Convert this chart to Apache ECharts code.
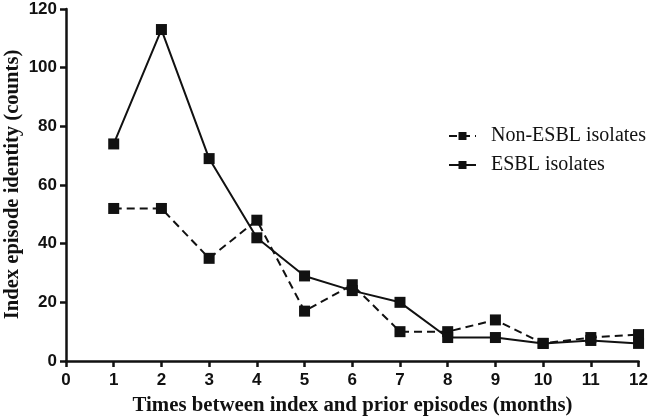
<!DOCTYPE html>
<html><head><meta charset="utf-8">
<script src="https://cdn.jsdelivr.net/npm/echarts@6/dist/echarts.min.js"></script>
<style>html,body{margin:0;padding:0;background:#fff}#c{width:651px;height:419px}</style>
</head><body><div id="c"></div>
<script>
const months = [1,2,3,4,5,6,7,8,9,10,11,12];
const nonEsbl = [52,52,35,48,17,26,10,10,14,6,8,9];
const esbl = [74,113,69,42,29,24,20,8,8,6,7,6];
const xTicks = [0,1,2,3,4,5,6,7,8,9,10,11,12];
const yTicks = [0,20,40,60,80,100,120];
const xTitle = 'Times between index and prior episodes (months)';
const yTitle = 'Index episode identity (counts)';

const chart = echarts.init(document.getElementById('c'), null, {renderer:'canvas'});
const labelStyle = {color:'#111',fontFamily:'Liberation Sans, Arial',fontWeight:'bold',fontSize:17};
const axisCommon = {
  axisLine:{show:true,lineStyle:{color:'#111',width:2.5}},
  axisTick:{show:true,length:6,lineStyle:{color:'#111',width:2.5}},
  splitLine:{show:false}
};
chart.setOption({
  animation:false,
  grid:{left:66,right:12,top:9,bottom:58},
  legend:{
    orient:'vertical', left:443, top:121, itemGap:9, itemWidth:27, itemHeight:10,
    textStyle:{color:'#111',fontFamily:'Liberation Serif, Times New Roman',fontSize:20,padding:[0,0,0,10]},
    data:['Non-ESBL isolates','ESBL isolates']
  },
  xAxis:Object.assign({}, axisCommon, {
    type:'value', min:0, max:12, interval:1,
    axisLabel:Object.assign({}, labelStyle, {margin:11, formatter:v=>xTicks.includes(v)?String(v):''})
  }),
  yAxis:Object.assign({}, axisCommon, {
    type:'value', min:0, max:120, interval:20,
    axisLabel:Object.assign({}, labelStyle, {margin:9, formatter:v=>yTicks.includes(v)?String(v):''})
  }),
  graphic:[
    {type:'text', x:352.5, y:406, scaleX:1.04,
     style:{text:xTitle, fill:'#111', font:'bold 20px "Liberation Serif", "Times New Roman"', align:'center', verticalAlign:'middle'}},
    {type:'text', x:12.5, y:184.5, rotation:Math.PI/2, scaleX:1.03,
     style:{text:yTitle, fill:'#111', font:'bold 20px "Liberation Serif", "Times New Roman"', align:'center', verticalAlign:'middle'}}
  ],
  series:[
    {name:'Non-ESBL isolates', type:'line', data:months.map((m,i)=>[m,nonEsbl[i]]),
     symbol:'rect', symbolSize:11, lineStyle:{color:'#111',width:2,type:[8,5]}, itemStyle:{color:'#111'}},
    {name:'ESBL isolates', type:'line', data:months.map((m,i)=>[m,esbl[i]]),
     symbol:'rect', symbolSize:11, lineStyle:{color:'#111',width:2}, itemStyle:{color:'#111'}}
  ]
});
</script></body></html>
